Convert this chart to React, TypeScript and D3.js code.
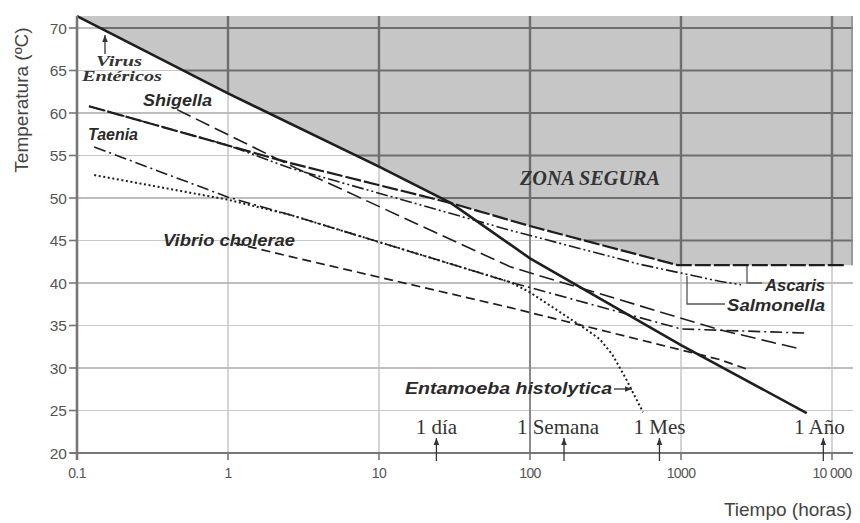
import React from 'react'
import * as d3 from 'd3'

// tiempo (horas), temperatura (ºC)
const virus = [[0.1, 71.4], [1, 62.3], [10, 53.7], [30, 49.4], [100, 42.9], [1000, 32.7], [6800, 24.7]]
const ascaris = [[0.12, 60.8], [2.6, 54.1], [22, 50.0], [30, 49.4], [100, 46.7], [950, 42.1], [12000, 42.1]]
const salmonella = [[0.12, 60.8], [1, 56.2], [2.6, 53.5], [74, 46.2], [535, 42.2], [1800, 40.2], [2500, 39.8]]
const shigella = [[0.46, 60.4], [2.9, 53.4], [74, 41.9], [1800, 34.5], [6300, 32.2]]
const taenia = [[0.13, 56.0], [1, 50.1], [2.6, 48.0], [74, 40.1], [1000, 34.6], [6800, 34.1]]
const entamoeba = [[0.13, 52.7], [1, 49.8], [2.6, 48.0], [74, 40.1], [100, 38.9], [224, 34.8], [290, 33.4], [350, 31.6], [430, 28.8], [560, 24.8]]
const vibrio = [[1.1, 44.7], [2.6, 43.1], [74, 37.1], [1800, 31.0], [2800, 29.8]]

const yTicks = [20, 25, 30, 35, 40, 45, 50, 55, 60, 65, 70]
const xTicks = [0.1, 1, 10, 100, 1000, 10000]
const xTickLabels = ['0.1', '1', '10', '100', '1000', '10 000']
const timeLabels = ['1 día', '1 Semana', '1 Mes', '1 Año']
const timeHours = [24, 168, 720, 8760]

const W = 860
const H = 523

const x = d3.scaleLog().domain([0.1, 10000]).range([77, 832])
const y = d3.scaleLinear().domain([20, 70]).range([453, 28])
const xEnd = x.invert(853)
const tTop = y.invert(16)

const line = d3.line<number[]>().x(d => x(d[0])).y(d => y(d[1]))

const styles = {
	vibrio: {dash: '9 5', w: 1.7},
	entamoeba: {dash: '2 2.6', w: 2},
	taenia: {dash: '12 4 2 4', w: 1.6},
	shigella: {dash: '15 6', w: 1.6},
	salmonella: {dash: '12 3 2 3 2 3', w: 1.6},
	ascaris: {dash: '16 3', w: 2.2},
	virus: {dash: null, w: 2.6},
}

const series = [
	{name: 'vibrio', data: vibrio},
	{name: 'entamoeba', data: entamoeba},
	{name: 'taenia', data: taenia},
	{name: 'shigella', data: shigella},
	{name: 'salmonella', data: salmonella},
	{name: 'ascaris', data: ascaris},
	{name: 'virus', data: virus},
]

// zona segura: encima de la curva de virus y de la de ascaris
const lastAsc = ascaris[ascaris.length - 1]
const safeZone = [
	...virus.filter(d => d[0] <= 30),
	...ascaris.filter(d => d[0] > 30),
	[xEnd, lastAsc[1]],
	[xEnd, tTop],
	[0.1, tTop],
]

const sans = 'Liberation Sans, Arial, sans-serif'
const serif = 'Liberation Serif, Times New Roman, serif'

const Arrow = ({x1, y1, x2, y2}) => {
	const a = Math.atan2(y2 - y1, x2 - x1)
	const L = 7, S = 2.8
	const p = [
		[x2, y2],
		[x2 - L * Math.cos(a) + S * Math.sin(a), y2 - L * Math.sin(a) - S * Math.cos(a)],
		[x2 - L * Math.cos(a) - S * Math.sin(a), y2 - L * Math.sin(a) + S * Math.cos(a)],
	]
	return (
		<g>
			<line x1={x1} y1={y1} x2={x2} y2={y2} stroke="#333" strokeWidth={1.3}/>
			<polygon points={p.map(q => q.join(',')).join(' ')} fill="#333"/>
		</g>
	)
}

const Label = ({x, y, w, children}) => (
	<text x={x} y={y} fontFamily={sans} fontSize={16} fontWeight="bold" fontStyle="italic"
		fill="#2a2a2a" textLength={w} lengthAdjust="spacingAndGlyphs">{children}</text>
)

export default function App() {
	const x0 = x(0.1), x1 = 853
	const yBot = y(20), yTop = 16
	const vGrid = xTicks.slice(1)

	return (
		<svg width={W} height={H} style={{position: 'absolute', left: 0, top: 0, background: '#fff'}}>
			<defs>
				<clipPath id="safe">
					<path d={line(safeZone) + 'Z'}/>
				</clipPath>
			</defs>

			{/* rejilla clara */}
			<g>
				{yTicks.slice(1).map(t => (
					<line key={`h-${t}`} x1={x0} x2={x1} y1={y(t)} y2={y(t)}
						stroke={t % 10 === 0 ? '#a9a9a9' : '#c9c9c9'} strokeWidth={t % 10 === 0 ? 1.6 : 1.2}/>
				))}
				{vGrid.map(t => (
					<line key={`v-${t}`} x1={x(t)} x2={x(t)} y1={yTop} y2={yBot}
						stroke={t === 100 ? '#8a8a8a' : '#bdbdbd'} strokeWidth={t === 100 ? 2 : 1.3}/>
				))}
			</g>

			{/* zona segura */}
			<path d={line(safeZone) + 'Z'} fill="#c6c6c6"/>
			<g clipPath="url(#safe)">
				{yTicks.map(t => (
					<line key={`hd-${t}`} x1={x0} x2={x1} y1={y(t)} y2={y(t)} stroke="#6e6e6e" strokeWidth={2.2}/>
				))}
				{vGrid.map(t => (
					<line key={`vd-${t}`} x1={x(t)} x2={x(t)} y1={yTop} y2={yBot} stroke="#6e6e6e" strokeWidth={2.4}/>
				))}
				<line x1={x1 - 1} x2={x1 - 1} y1={yTop} y2={yBot} stroke="#8a8a8a" strokeWidth={1.5}/>
			</g>
			<text x={520} y={185} fontFamily={serif} fontSize={20} fontWeight="bold" fontStyle="italic"
				fill="#333" textLength={140} lengthAdjust="spacingAndGlyphs">ZONA SEGURA</text>

			{/* curvas */}
			<g fill="none">
				{series.map(s => (
					<path key={s.name} d={line(s.data)}
						stroke="#1e1e1e" strokeWidth={styles[s.name].w}
						strokeDasharray={styles[s.name].dash || undefined}/>
				))}
			</g>

			{/* ejes */}
			<line x1={x0} x2={x0} y1={yTop} y2={yBot + 7} stroke="#777" strokeWidth={2.6}/>
			<line x1={x0 - 7} x2={x1} y1={yBot} y2={yBot} stroke="#777" strokeWidth={2}/>
			{yTicks.map(t => (
				<g key={`yt-${t}`}>
					<line x1={x0 - 8} x2={x0} y1={y(t)} y2={y(t)} stroke="#777" strokeWidth={1.6}/>
					<text x={x0 - 10} y={y(t)} dy="0.36em" textAnchor="end" fontFamily={sans} fontSize={15.5} fill="#555">{t}</text>
				</g>
			))}
			{xTicks.map((t, i) => (
				<g key={`xt-${t}`}>
					<line x1={x(t)} x2={x(t)} y1={yBot} y2={yBot + 7} stroke="#777" strokeWidth={1.6}/>
					<text x={x(t)} y={yBot + 25} textAnchor="middle" fontFamily={sans} fontSize={14}
						letterSpacing={-0.6} fill="#555">{xTickLabels[i]}</text>
				</g>
			))}
			<text transform="translate(28,100) rotate(-90)" textAnchor="middle" fontFamily={sans} fontSize={19} fill="#444">Temperatura (ºC)</text>
			<text x={852} y={516} textAnchor="end" fontFamily={sans} fontSize={19} fill="#444">Tiempo (horas)</text>

			{/* marcas de tiempo */}
			{timeHours.map((h, i) => (
				<g key={`tm-${h}`}>
					<Arrow x1={x(h)} y1={yBot + 8} x2={x(h)} y2={yBot - 15}/>
					<text x={x(h) - (i === 1 ? 6 : i === 3 ? 4 : 0)} y={434} textAnchor="middle" fontFamily={serif}
						fontSize={21} fill="#333">{timeLabels[i]}</text>
				</g>
			))}

			{/* rotulos */}
			<text fontFamily={serif} fontSize={14.5} fontWeight="bold" fontStyle="italic" fill="#333">
				<tspan x={96} y={66} textLength={46} lengthAdjust="spacingAndGlyphs">Virus</tspan>
				<tspan x={82} y={81} textLength={80} lengthAdjust="spacingAndGlyphs">Entéricos</tspan>
			</text>
			<Arrow x1={105} y1={54} x2={105} y2={35}/>
			<Label x={143} y={106} w={69}>Shigella</Label>
			<Label x={88} y={140} w={50}>Taenia</Label>
			<Label x={163} y={246} w={132}>Vibrio cholerae</Label>
			<Label x={405} y={394} w={207}>Entamoeba histolytica</Label>
			<Arrow x1={614} y1={389} x2={632} y2={389}/>
			<Label x={765} y={291} w={60}>Ascaris</Label>
			<Label x={727} y={311} w={98}>Salmonella</Label>
			<polyline points="747,266 747,283 762,283" fill="none" stroke="#555" strokeWidth={1.3}/>
			<polyline points="687,276 687,304 725,304" fill="none" stroke="#555" strokeWidth={1.3}/>
		</svg>
	)
}
